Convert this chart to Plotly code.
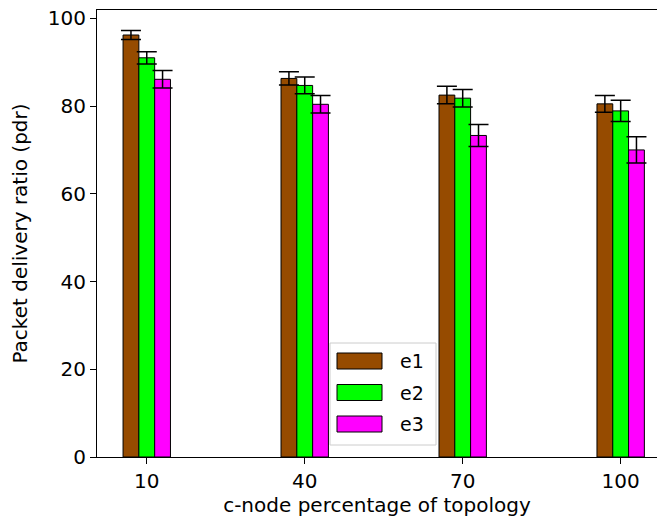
import plotly.graph_objects as go

categories = [10, 40, 70, 100]
series_names = ["e1", "e2", "e3"]
e1_values = [96.2, 86.3, 82.5, 80.5]
e2_values = [91.0, 84.7, 81.8, 78.9]
e3_values = [86.1, 80.4, 73.3, 70.0]
e1_err = [1.0, 1.5, 2.0, 1.9]
e2_err = [1.4, 1.9, 2.0, 2.4]
e3_err = [2.0, 2.0, 2.5, 3.0]
colors = ["#964B00", "#00FF00", "#FF00FF"]
y_ticks = [0, 20, 40, 60, 80, 100]

bar_w = 3
offsets = [-bar_w, 0, bar_w]
values = [e1_values, e2_values, e3_values]
errs = [e1_err, e2_err, e3_err]

FONT = "DejaVu Sans"
fig = go.Figure()
for name, vals, err, col, off in zip(series_names, values, errs, colors, offsets):
    fig.add_trace(go.Bar(
        x=[c + off for c in categories], y=vals, width=bar_w, name=name,
        marker=dict(color=col, line=dict(color="black", width=1)),
        error_y=dict(type="data", array=err, visible=True, color="black",
                     thickness=1.5, width=10),
        showlegend=False,
    ))

W, H = 657, 518
L, R, T, B = 97, 0, 10, 61
pw, ph = W - L - R, H - T - B

def px_x(p):
    return (p - L) / pw

def px_y(p):
    return (H - B - p) / ph

fig.update_layout(
    width=W, height=H, margin=dict(l=L, r=R, t=T, b=B, autoexpand=False),
    plot_bgcolor="white", paper_bgcolor="white", barmode="overlay",
    font=dict(family=FONT, size=20, color="black"),
    xaxis=dict(range=[0.55, 106.9], tickvals=categories, ticktext=[str(c) for c in categories],
               showline=True, linecolor="black", linewidth=1, ticks="outside",
               ticklen=6, tickcolor="black", showgrid=False, zeroline=False, mirror=True,
               automargin=False,
               title=dict(text="c-node percentage of topology", standoff=0,
                          font=dict(size=20))),
    yaxis=dict(range=[0, 101.9], tickvals=y_ticks, showline=True, linecolor="black",
               linewidth=1, ticks="outside", ticklen=6, tickcolor="black",
               showgrid=False, zeroline=False, mirror=False, automargin=False,
               title=dict(text="Packet delivery ratio (pdr)", standoff=14,
                          font=dict(size=20))),
)

# legend box (matplotlib style)
fig.add_shape(type="rect", xref="paper", yref="paper",
              x0=px_x(330), x1=px_x(436), y0=px_y(445), y1=px_y(343),
              fillcolor="rgba(255,255,255,0.8)", line=dict(color="#cccccc", width=1),
              layer="above")
patch_tops = [353, 384.5, 416]
for name, col, top in zip(series_names, colors, patch_tops):
    fig.add_shape(type="rect", xref="paper", yref="paper",
                  x0=px_x(337), x1=px_x(382), y0=px_y(top + 16), y1=px_y(top),
                  fillcolor=col, line=dict(color="black", width=1), layer="above")
    fig.add_annotation(xref="paper", yref="paper", x=px_x(398), y=px_y(top + 8),
                       text=name, showarrow=False, xanchor="left", yanchor="middle",
                       font=dict(family=FONT, size=19, color="black"))

fig.write_html("out.html", config={"displayModeBar": False},
               post_script="document.body.style.margin='0';")
